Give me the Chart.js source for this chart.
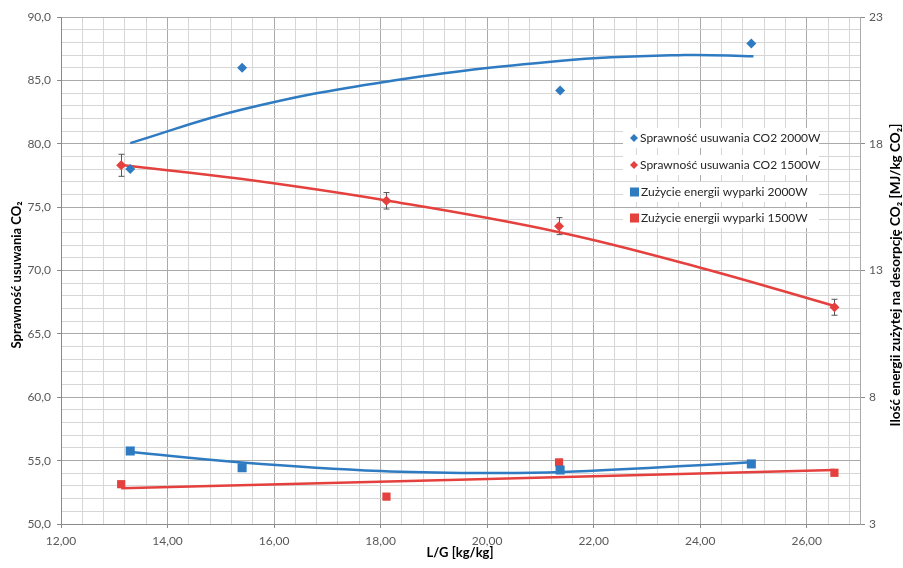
<!DOCTYPE html>
<html>
<head>
<meta charset="utf-8">
<script src="https://cdn.jsdelivr.net/npm/chart.js@4.4.1/dist/chart.umd.min.js"></script>
<style>
  html, body { margin: 0; padding: 0; background: #fff; }
  #wrap { width: 903px; height: 568px; }
</style>
</head>
<body>
<div id="wrap"><canvas id="chart" width="903" height="568"></canvas></div>
<script>
// measured points
const lgBlue = [13.30, 15.40, 21.37, 24.96];
const lgRed = [13.13, 18.11, 21.35, 26.52];
const effBlue = [78.0, 86.0, 84.2, 87.9];
const effRed = [78.3, 75.5, 73.5, 67.1];
const effRedErr = [0.87, 0.65, 0.67, 0.63];
const energyBlue = [5.88, 5.22, 5.13, 5.37];
const energyRed = [4.57, 4.08, 5.43, 5.02];

// trend lines
const trendEffBlueX = [13.30, 15.40, 18.10, 21.40, 23.70, 25.00];
const trendEffBlueY = [80.05, 82.70, 84.90, 86.55, 87.00, 86.90];
const trendEffRedX = [13.13, 15.37, 18.11, 21.33, 24.02, 26.52];
const trendEffRedY = [78.32, 77.23, 75.52, 73.04, 70.20, 67.20];
const trendEnBlueX = [13.30, 15.40, 18.00, 19.90, 21.40, 25.00];
const trendEnBlueY = [5.84, 5.43, 5.09, 5.01, 5.05, 5.44];
const trendEnRedX = [13.13, 26.52];
const trendEnRedY = [4.41, 5.13];

// axis ticks
const xMajorTicks = [12, 14, 16, 18, 20, 22, 24, 26];
const xTickLabels = ['12,00', '14,00', '16,00', '18,00', '20,00', '22,00', '24,00', '26,00'];
const yMajorTicks = [50, 55, 60, 65, 70, 75, 80, 85, 90];
const yTickLabels = ['50,0', '55,0', '60,0', '65,0', '70,0', '75,0', '80,0', '85,0', '90,0'];
const y2Ticks = [3, 8, 13, 18, 23];
const y2TickLabels = ['3', '8', '13', '18', '23'];

const seriesLabels = [
    'Sprawność usuwania CO2 2000W',
    'Sprawność usuwania CO2 1500W',
    'Zużycie energii wyparki 2000W',
    'Zużycie energii wyparki 1500W'
];

const BLUE = '#2f7bc2';
const RED = '#e4403d';
const FONT = 'Lato, "Open Sans", sans-serif';

const pts = (xs, ys) => xs.map((x, i) => ({ x, y: ys[i] }));

function isMajorX(v) {
    return xMajorTicks.some(t => Math.abs(t - v) < 1e-6);
}
function isMajorY(v) {
    return yMajorTicks.some(t => Math.abs(t - v) < 1e-6);
}

// error bars for the 1500W efficiency series
const errorBars = {
    id: 'errorBars',
    beforeDatasetsDraw(chart) {
        const { ctx, scales: { x, y } } = chart;
        ctx.save();
        ctx.strokeStyle = '#555';
        ctx.lineWidth = 1;
        lgRed.forEach((lx, i) => {
            const px = Math.round(x.getPixelForValue(lx)) + 0.5;
            const top = y.getPixelForValue(effRed[i] + effRedErr[i]);
            const bot = y.getPixelForValue(effRed[i] - effRedErr[i]);
            ctx.beginPath();
            ctx.moveTo(px, top); ctx.lineTo(px, bot);
            ctx.moveTo(px - 3, top); ctx.lineTo(px + 3, top);
            ctx.moveTo(px - 3, bot); ctx.lineTo(px + 3, bot);
            ctx.stroke();
        });
        ctx.restore();
    }
};

// legend box inside plot and rotated axis titles
const extras = {
    id: 'extras',
    afterDraw(chart) {
        const ctx = chart.ctx;
        ctx.save();
        const rows = [138, 165, 192, 218];
        seriesLabels.forEach((label, i) => {
            const ds = chart.data.datasets[i];
            const y = rows[i];
            ctx.fillStyle = '#fff';
            ctx.fillRect(623, y - 10, 196, 20);
            ctx.fillStyle = ds.backgroundColor;
            ctx.beginPath();
            if (ds.pointStyle === 'rectRot') {
                ctx.moveTo(634, y - 4); ctx.lineTo(638, y);
                ctx.lineTo(634, y + 4); ctx.lineTo(630, y);
                ctx.closePath(); ctx.fill();
            } else {
                ctx.fillRect(630, y - 4.5, 9, 9);
            }
            ctx.fillStyle = '#262626';
            ctx.font = '12px ' + FONT;
            ctx.textBaseline = 'middle';
            ctx.textAlign = 'left';
            ctx.fillText(label, ds.pointStyle === 'rectRot' ? 640 : 641, y);
        });

        ctx.fillStyle = '#000';
        ctx.textAlign = 'center';
        ctx.textBaseline = 'middle';
        ctx.font = 'bold 13px ' + FONT;
        ctx.fillText('L/G [kg/kg]', 460, 553);

        ctx.save();
        ctx.translate(17, 275);
        ctx.rotate(-Math.PI / 2);
        ctx.fillText('Sprawność usuwania CO₂', 0, 0);
        ctx.restore();

        ctx.save();
        ctx.translate(896, 275);
        ctx.rotate(-Math.PI / 2);
        ctx.font = 'bold 13.5px ' + FONT;
        ctx.fillText('Ilość energii zużytej na desorpcję CO₂ [MJ/kg CO₂]', 0, 0);
        ctx.restore();
        ctx.restore();
    }
};

const markerDs = (label, data, color, style, radius, axis) => ({
    label, data,
    yAxisID: axis,
    backgroundColor: color,
    borderColor: color,
    borderWidth: 0,
    pointStyle: style,
    pointRadius: radius,
    pointHoverRadius: radius,
    showLine: false,
    order: 0
});

const trendDs = (data, color, axis) => ({
    data,
    yAxisID: axis,
    borderColor: color,
    backgroundColor: color,
    borderWidth: 2.5,
    pointRadius: 0,
    showLine: true,
    tension: 0.4,
    fill: false,
    order: 1
});

new Chart(document.getElementById('chart'), {
    type: 'scatter',
    data: {
        datasets: [
            markerDs(seriesLabels[0], pts(lgBlue, effBlue), BLUE, 'rectRot', 5, 'y'),
            markerDs(seriesLabels[1], pts(lgRed, effRed), RED, 'rectRot', 5, 'y'),
            markerDs(seriesLabels[2], pts(lgBlue, energyBlue), BLUE, 'rect', 6.4, 'y2'),
            markerDs(seriesLabels[3], pts(lgRed, energyRed), RED, 'rect', 5.8, 'y2'),
            trendDs(pts(trendEffBlueX, trendEffBlueY), BLUE, 'y'),
            trendDs(pts(trendEffRedX, trendEffRedY), RED, 'y'),
            trendDs(pts(trendEnBlueX, trendEnBlueY), BLUE, 'y2'),
            trendDs(pts(trendEnRedX, trendEnRedY), RED, 'y2')
        ]
    },
    options: {
        responsive: false,
        animation: false,
        layout: { padding: { top: 17, left: 0, right: 0, bottom: 0 } },
        plugins: {
            legend: { display: false },
            tooltip: { enabled: false }
        },
        scales: {
            x: {
                type: 'linear',
                min: 12, max: 27,
                afterBuildTicks(scale) {
                    const t = [];
                    for (let i = 0; i <= 37; i++) t.push({ value: +(12 + i * 0.4).toFixed(1) });
                    t.push({ value: 27 });
                    scale.ticks = t;
                },
                afterFit(scale) { scale.height = 44; },
                grid: {
                    color: c => isMajorX(c.tick.value) ? '#aaaaaa' : '#d6d6d6',
                    tickColor: c => isMajorX(c.tick.value) ? '#8a8a8a' : 'rgba(0,0,0,0)',
                    tickLength: 4,
                    lineWidth: 1
                },
                border: { color: '#8a8a8a' },
                ticks: {
                    autoSkip: false,
                    maxRotation: 0,
                    padding: 6,
                    color: '#595959',
                    font: { family: FONT, size: 12 },
                    callback: v => {
                        const i = xMajorTicks.findIndex(t => Math.abs(t - v) < 1e-6);
                        return i >= 0 ? xTickLabels[i] : '';
                    }
                }
            },
            y: {
                position: 'left',
                min: 50, max: 90,
                afterFit(scale) { scale.width = 61; },
                grid: {
                    color: c => isMajorY(c.tick.value) ? '#aaaaaa' : '#d6d6d6',
                    tickColor: c => isMajorY(c.tick.value) ? '#8a8a8a' : 'rgba(0,0,0,0)',
                    tickLength: 4
                },
                border: { color: '#8a8a8a' },
                ticks: {
                    stepSize: 1,
                    autoSkip: false,
                    padding: 6,
                    color: '#595959',
                    font: { family: FONT, size: 12 },
                    callback: v => {
                        const i = yMajorTicks.indexOf(v);
                        return i >= 0 ? yTickLabels[i] : '';
                    }
                }
            },
            y2: {
                position: 'right',
                min: 3, max: 23,
                afterFit(scale) { scale.width = 43; },
                grid: {
                    drawOnChartArea: false,
                    tickColor: '#8a8a8a',
                    tickLength: 5
                },
                border: { color: '#aaaaaa' },
                ticks: {
                    stepSize: 5,
                    autoSkip: false,
                    padding: 4,
                    color: '#595959',
                    font: { family: FONT, size: 12 },
                    callback: v => {
                        const i = y2Ticks.indexOf(v);
                        return i >= 0 ? y2TickLabels[i] : '';
                    }
                }
            }
        }
    },
    plugins: [errorBars, extras]
});
</script>
</body>
</html>
